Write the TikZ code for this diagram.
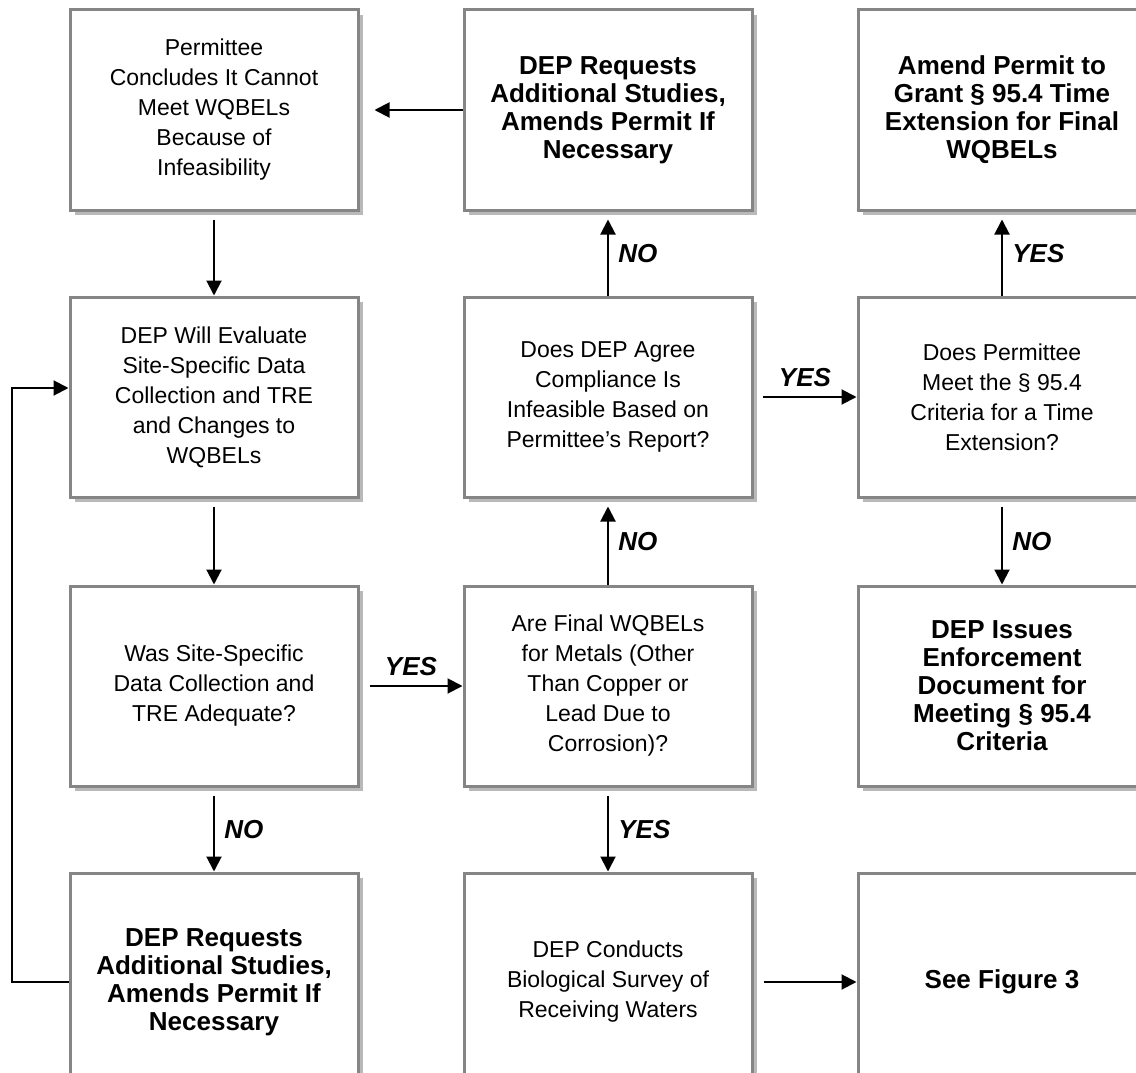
\documentclass[tikz,border=0pt]{standalone}
\usepackage{fontspec}
\setmainfont{Liberation Sans}
\usetikzlibrary{arrows.meta,shadows}
\definecolor{boxline}{HTML}{858585}

\begin{document}
\begin{tikzpicture}[x=1pt,y=-1pt,
    box/.style={draw=boxline, line width=3pt, fill=white,
      minimum width=288pt, minimum height=200pt, align=center,
      font=\fontsize{23}{30}\selectfont,
      drop shadow={shadow xshift=5pt, shadow yshift=-5pt, opacity=.55}},
    bbox/.style={box, font=\fontsize{26}{28}\selectfont\bfseries},
    lab/.style={font=\fontsize{26}{28}\selectfont\bfseries\itshape}]
      \useasboundingbox (0,0) rectangle (1136,1073);
      \clip (0,0) rectangle (1136,1073);
      \draw
        (214,110) node[box] (a1) {Permittee\\Concludes It Cannot\\Meet WQBELs\\Because of\\Infeasibility}
        (608,110) node[bbox] (b1) {DEP Requests\\Additional Studies,\\Amends Permit If\\Necessary}
        (1002,110) node[bbox] (c1) {Amend Permit to\\Grant § 95.4 Time\\Extension for Final\\WQBELs}
        (214,397) node[box] (a2) {DEP Will Evaluate\\Site-Specific Data\\Collection and TRE\\and Changes to\\WQBELs}
        (608,397) node[box] (b2) {Does DEP Agree\\Compliance Is\\Infeasible Based on\\Permittee’s Report?}
        (1002,397) node[box] (c2) {Does Permittee\\Meet the § 95.4\\Criteria for a Time\\Extension?}
        (214,686) node[box] (a3) {Was Site-Specific\\Data Collection and\\TRE Adequate?}
        (608,686) node[box] (b3) {Are Final WQBELs\\for Metals (Other\\Than Copper or\\Lead Due to\\Corrosion)?}
        (1002,686) node[bbox] (c3) {DEP Issues\\Enforcement\\Document for\\Meeting § 95.4\\Criteria}
        (214,982) node[bbox,minimum height=218pt] (a4) {DEP Requests\\Additional Studies,\\Amends Permit If\\Necessary}
        (608,982) node[box,minimum height=218pt] (b4) {DEP Conducts\\Biological Survey of\\Receiving Waters}
        (1002,982) node[bbox,minimum height=218pt] (c4) {See Figure 3};
      \begin{scope}[-{Triangle[length=15pt,width=15pt]}, line width=2pt]
        \draw[shorten >=15pt] (b1) to (a1);
        \draw[shorten <=8pt] (a1) to (a2);
        \draw[shorten <=8pt] (a2) to (a3);
        \draw[shorten <=8pt] (a3) to node[lab,right=6pt] {NO} (a4);
        \draw[shorten <=10pt] (a3) to node[lab,above=6pt] {YES} (b3);
        \draw[shorten >=8pt] (b3) to node[lab,right=6pt] {NO} (b2);
        \draw[shorten >=8pt] (b2) to node[lab,right=6pt] {NO} (b1);
        \draw[shorten <=9pt] (b2) to node[lab,above=6pt] {YES} (c2);
        \draw[shorten >=8pt] (c2) to node[lab,right=6pt] {YES} (c1);
        \draw[shorten <=8pt] (c2) to node[lab,right=6pt] {NO} (c3);
        \draw[shorten <=8pt] (b3) to node[lab,right=6pt] {YES} (b4);
        \draw[shorten <=10pt] (b4) to (c4);
        \draw (a4.west) -- ++(-57,0) |- ([yshift=9pt]a2.west);
      \end{scope}
    \end{tikzpicture}
\end{document}
